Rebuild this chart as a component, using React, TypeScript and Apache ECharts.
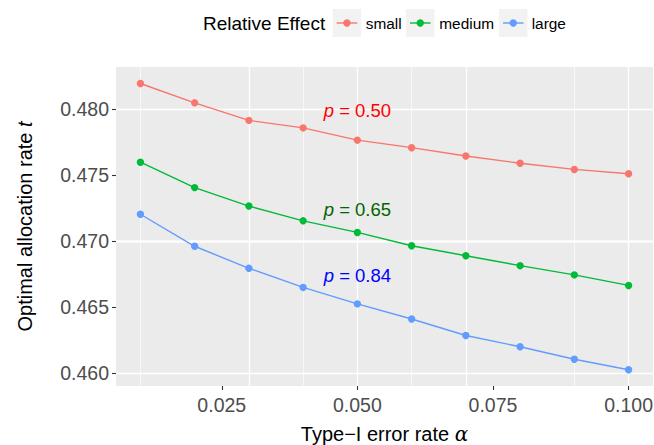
import React, { useEffect, useRef } from "react";
import * as echarts from "echarts";

// ---- data ----
const alphaValues = [0.01, 0.02, 0.03, 0.04, 0.05, 0.06, 0.07, 0.08, 0.09, 0.1];
const smallT = [0.48195, 0.48048, 0.47915, 0.47858, 0.47765, 0.47708, 0.47645, 0.4759, 0.47543, 0.4751];
const mediumT = [0.47598, 0.47405, 0.47265, 0.47153, 0.47065, 0.46964, 0.46888, 0.46813, 0.46743, 0.46663];
const largeT = [0.47203, 0.4696, 0.46793, 0.46648, 0.46523, 0.46408, 0.46283, 0.46198, 0.46103, 0.46023];
const seriesNames = ["small", "medium", "large"];
const seriesColors = ["#F8766D", "#00BA38", "#619CFF"];
const xTicks = [0.025, 0.05, 0.075, 0.1];
const yTicks = [0.46, 0.465, 0.47, 0.475, 0.48];
const xMinor = [0.0125, 0.0375, 0.0625, 0.0875];
const yMinor = [0.4625, 0.4675, 0.4725, 0.4775, 0.4825];
const annotationLabels = ["0.50", "0.65", "0.84"];
const annotationX = [0.05, 0.05, 0.05];
const annotationY = [0.48, 0.4725, 0.4675];
const annotationColors = ["#FF0000", "#006400", "#0000FF"];
const legendTitle = "Relative Effect";

const FONT = '"Liberation Sans", Arial, Helvetica, sans-serif';

export default function App() {
  const ref = useRef<HTMLDivElement>(null);
  useEffect(() => {
    if (!ref.current) return;
    const chart = echarts.init(ref.current, null, { renderer: "svg" });
    const seriesData = [smallT, mediumT, largeT];

    // legend drawn as graphic (ggplot style keys)
    const boxX = [332.7, 406, 499];
    const textX = [365.7, 439.3, 531.7];
    const legendY = 23;
    const legendGraphic: any[] = [
      {
        type: "text",
        x: 203,
        y: legendY,
        style: {
          text: legendTitle,
          fontSize: 19,
          fontFamily: FONT,
          fill: "#000",
          verticalAlign: "middle",
          align: "left",
        },
      },
    ];
    seriesNames.forEach((n, i) => {
      legendGraphic.push({
        type: "rect",
        shape: { x: boxX[i], y: 9, width: 28.5, height: 28 },
        style: { fill: "#F2F2F2" },
      });
      legendGraphic.push({
        type: "line",
        shape: { x1: boxX[i] + 4, y1: legendY, x2: boxX[i] + 24.5, y2: legendY },
        style: { stroke: seriesColors[i], lineWidth: 1.4 },
      });
      legendGraphic.push({
        type: "circle",
        shape: { cx: boxX[i] + 14.25, cy: legendY, r: 3.7 },
        style: { fill: seriesColors[i] },
      });
      legendGraphic.push({
        type: "text",
        x: textX[i],
        y: legendY,
        style: {
          text: n,
          fontSize: 15.4,
          fontFamily: FONT,
          fill: "#000",
          verticalAlign: "middle",
          align: "left",
        },
      });
    });

    const gridLines = [
      ...xTicks.map((v) => ({ xAxis: v, lineStyle: { width: 1.3 } })),
      ...xMinor.map((v) => ({ xAxis: v, lineStyle: { width: 0.65 } })),
      ...yTicks.map((v) => ({ yAxis: v, lineStyle: { width: 1.3 } })),
      ...yMinor.map((v) => ({ yAxis: v, lineStyle: { width: 0.65 } })),
    ];

    const option: any = {
      animation: false,
      textStyle: { fontFamily: FONT },
      grid: {
        left: 116,
        top: 67,
        right: 1,
        bottom: 59,
        show: true,
        backgroundColor: "#EBEBEB",
        borderWidth: 0,
        outerBoundsMode: "none",
      },
      graphic: legendGraphic,
      xAxis: {
        type: "value",
        min: 0.0055,
        max: 0.1045,
        axisLine: { show: false },
        splitLine: { show: false },
        axisTick: {
          show: true,
          customValues: xTicks,
          length: 4,
          lineStyle: { color: "#333333", width: 1.1 },
        },
        axisLabel: {
          customValues: xTicks,
          formatter: (v: number) => v.toFixed(3),
          fontSize: 19.5,
          color: "#4D4D4D",
          margin: 9,
          fontFamily: FONT,
        },
        name: "Type\u2212I error rate {i|\u03b1}",
        nameLocation: "middle",
        nameGap: 38,
        nameTextStyle: {
          fontSize: 20,
          color: "#000",
          fontFamily: FONT,
          rich: { i: { fontSize: 20, fontStyle: "italic", fontFamily: "DejaVu Serif", color: "#000" } },
        },
      },
      yAxis: {
        type: "value",
        min: 0.459,
        max: 0.4832,
        axisLine: { show: false },
        splitLine: { show: false },
        axisTick: {
          show: true,
          customValues: yTicks,
          length: 4,
          lineStyle: { color: "#333333", width: 1.1 },
        },
        axisLabel: {
          customValues: yTicks,
          formatter: (v: number) => v.toFixed(3),
          fontSize: 19.5,
          color: "#4D4D4D",
          margin: 7,
          fontFamily: FONT,
        },
        name: "Optimal allocation rate {i|t}",
        nameLocation: "middle",
        nameRotate: 90,
        nameGap: 81,
        nameTextStyle: {
          fontSize: 20,
          color: "#000",
          fontFamily: FONT,
          rich: { i: { fontSize: 20, fontStyle: "italic", fontFamily: FONT, color: "#000" } },
        },
      },
      series: [
        {
          type: "line",
          name: "gridlines",
          data: [[0.05, 0.47]],
          symbol: "none",
          lineStyle: { opacity: 0 },
          silent: true,
          z: 1,
          markLine: {
            z: 1,
            silent: true,
            animation: false,
            symbol: ["none", "none"],
            label: { show: false },
            emphasis: { disabled: true },
            lineStyle: { color: "#FFFFFF", type: "solid", width: 1 },
            data: gridLines,
          },
        },
        ...seriesNames.map((n, i) => ({
          type: "line",
          name: n,
          z: 3,
          data: alphaValues.map((a, j) => [a, seriesData[i][j]]),
          symbol: "circle",
          symbolSize: 7.4,
          showSymbol: true,
          color: seriesColors[i],
          lineStyle: { width: 1.4, color: seriesColors[i] },
          itemStyle: { color: seriesColors[i] },
          emphasis: { disabled: true },
        })),
        {
          type: "scatter",
          name: "annotations",
          z: 4,
          symbolSize: 1,
          itemStyle: { color: "rgba(0,0,0,0)", opacity: 1 },
          silent: true,
          data: annotationLabels.map((lab, i) => ({
            value: [annotationX[i], annotationY[i]],
            itemStyle: { color: "rgba(0,0,0,0)", opacity: 1 },
            label: {
              show: true,
              position: "inside",
              offset: [0, 1.5],
              opacity: 1,
              formatter: "{i|p} = " + lab,
              color: annotationColors[i],
              fontSize: 18.5,
              fontFamily: FONT,
              rich: {
                i: { fontStyle: "italic", fontSize: 18.5, fontFamily: FONT, color: annotationColors[i] },
              },
            },
          })),
        },
      ],
    };
    chart.setOption(option);
    return () => chart.dispose();
  }, []);
  return (
    <div
      ref={ref}
      style={{ position: "fixed", left: 0, top: 0, width: 654, height: 445, background: "#fff" }}
    />
  );
}
